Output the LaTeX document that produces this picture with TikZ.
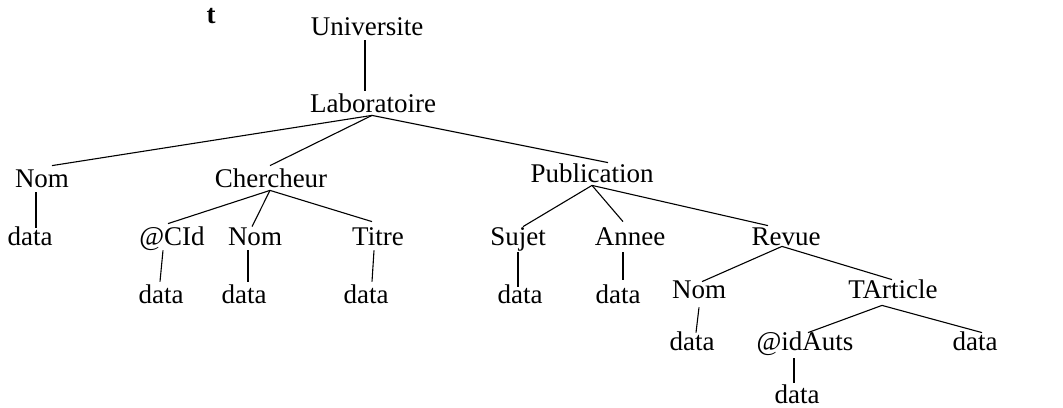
\documentclass[tikz,border=0pt]{standalone}
\usepackage{fontspec}
\setmainfont{Liberation Serif}
\begin{document}
\begin{tikzpicture}[x=0.5pt,y=-0.5pt,
  lbl/.style={anchor=base,inner xsep=0pt,inner ysep=1.5pt,text height=9pt,text depth=0pt,font=\fontsize{13.5}{16}\selectfont},
  edge/.style={line width=0.55pt,black}]
\useasboundingbox (0,0) rectangle (1063,407);
\node[lbl,font=\fontsize{13.5}{16}\selectfont\bfseries] (t) at (211,23) {t};
\node[lbl] (univ) at (367,35) {Universite};
\node[lbl] (lab) at (373,112) {Laboratoire};
\node[lbl] (nomA) at (42,187) {Nom};
\node[lbl] (cher) at (271,187) {Chercheur};
\node[lbl] (pub) at (592,182) {Publication};
\node[lbl] (dataA) at (30,245) {data};
\node[lbl] (cid) at (172,245) {@CId};
\node[lbl] (nomB) at (255,245) {Nom};
\node[lbl] (titre) at (378,245) {Titre};
\node[lbl] (sujet) at (518,245) {Sujet};
\node[lbl] (annee) at (630,245) {Annee};
\node[lbl] (revue) at (786,245) {Revue};
\node[lbl] (dataB) at (161,303) {data};
\node[lbl] (dataC) at (244,303) {data};
\node[lbl] (dataD) at (366,303) {data};
\node[lbl] (dataE) at (520,303) {data};
\node[lbl] (dataF) at (618,303) {data};
\node[lbl] (nomC) at (699,298) {Nom};
\node[lbl] (tart) at (893,298) {TArticle};
\node[lbl] (dataG) at (692,350) {data};
\node[lbl] (idauts) at (805,350) {@idAuts};
\node[lbl] (dataH) at (975,350) {data};
\node[lbl] (dataI) at (797,403) {data};
\begin{scope}[edge]
\draw ([xshift=-1pt,yshift=-1pt]univ.south) -- ([xshift=-4pt]lab.north);
\draw ([xshift=-0.5pt]lab.south) -- ([xshift=5pt]nomA.north);
\draw ([xshift=-0.5pt]lab.south) -- ([xshift=-0.5pt]cher.north);
\draw ([xshift=-0.5pt]lab.south) -- ([xshift=8pt,yshift=-1pt]pub.north);
\draw ([xshift=-3pt,yshift=-1pt]nomA.south) -- ([xshift=3pt,yshift=-2pt]dataA.north);
\draw ([xshift=-0.5pt]cher.south) -- ([xshift=-2pt]cid.north);
\draw ([xshift=-0.5pt]cher.south) -- ([xshift=-1.5pt,yshift=-1.5pt]nomB.north);
\draw ([xshift=-0.5pt]cher.south) -- ([xshift=-3pt,yshift=1pt]titre.north);
\draw ([xshift=-4.5pt,yshift=-1pt]cid.south) -- ([xshift=-0.5pt]dataB.north);
\draw ([xshift=-3.5pt,yshift=-1pt]nomB.south) -- ([xshift=2pt]dataC.north);
\draw ([xshift=-2pt,yshift=-1pt]titre.south) -- ([xshift=3pt]dataD.north);
\draw (pub.south) -- ([xshift=2.5pt,yshift=-1.5pt]sujet.north);
\draw (pub.south) -- ([xshift=-3.5pt,yshift=1pt]annee.north);
\draw (pub.south) -- ([xshift=-9pt,yshift=-1pt]revue.north);
\draw ([yshift=-2pt]sujet.south) -- ([xshift=-1pt,yshift=-2.5pt]dataE.north);
\draw ([xshift=-3.5pt,yshift=-2pt]annee.south) -- ([xshift=2.5pt,yshift=1pt]dataF.north);
\draw ([xshift=-2pt,yshift=1pt]revue.south) -- ([xshift=1.5pt,yshift=-2.5pt]nomC.north);
\draw ([xshift=-2pt,yshift=1pt]revue.south) -- ([xshift=-0.5pt,yshift=-1.5pt]tart.north);
\draw ([yshift=-3pt]nomC.south) -- ([xshift=2pt,yshift=-2pt]dataG.north);
\draw ([xshift=-5.5pt,yshift=-2pt]tart.south) -- ([xshift=1.5pt,yshift=-2pt]idauts.north);
\draw ([xshift=-5.5pt,yshift=-2pt]tart.south) -- ([xshift=3.5pt,yshift=-2pt]dataH.north);
\draw ([xshift=-5.5pt,yshift=-2.5pt]idauts.south) -- ([xshift=-1.5pt,yshift=-0.5pt]dataI.north);
\end{scope}
\end{tikzpicture}
\end{document}
